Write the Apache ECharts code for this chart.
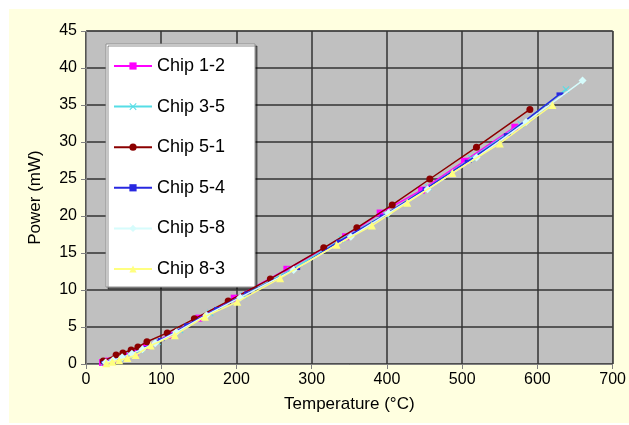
<!DOCTYPE html>
<html>
<head>
<meta charset="utf-8">
<script src="https://cdn.jsdelivr.net/npm/echarts@6/dist/echarts.min.js"></script>
<style>html,body{margin:0;padding:0;background:#fff;overflow:hidden}#c{width:629px;height:425px}</style>
</head>
<body>
<div id="c"></div>
<script>
// ---- data (temperature °C, power mW) ----
const chip12 = [[22,0.2],[30,0.4],[40,0.7],[52,1.1],[65,1.6],[80,2.4],[110,3.9],[150,6.2],[197,8.9],[267,12.8],[345,17.2],[391,20.4],[446,23.5],[503,27.4],[570,32.0]];
const chip35 = [[24,0.2],[33,0.4],[45,0.8],[58,1.3],[72,1.9],[95,3.0],[125,4.6],[165,6.9],[210,9.3],[272,12.7],[340,16.9],[398,20.2],[455,23.9],[512,27.8],[578,32.4],[638,37.1]];
const chip51 = [[23,0.4],[40,1.2],[49,1.5],[60,1.9],[69,2.3],[81,3.0],[108,4.2],[144,6.1],[189,8.5],[245,11.5],[316,15.7],[360,18.4],[407,21.5],[457,25.0],[519,29.3],[590,34.4]];
const chip54 = [[25,0.2],[38,0.6],[50,1.0],[63,1.5],[78,2.2],[100,3.3],[135,5.3],[175,7.5],[215,9.6],[280,12.9],[337,16.6],[395,20.0],[452,23.7],[508,27.4],[560,31.0],[630,36.5]];
const chip58 = [[26,0.2],[36,0.5],[48,0.9],[61,1.4],[75,2.0],[92,2.8],[120,4.3],[160,6.6],[205,9.0],[276,12.7],[352,17.2],[402,20.4],[454,23.6],[519,27.9],[585,32.7],[660,38.3]];
const chip83 = [[27,0.1],[35,0.3],[44,0.5],[55,0.8],[66,1.2],[86,2.5],[118,3.9],[158,6.4],[201,8.4],[258,11.6],[333,16.1],[380,18.7],[427,21.8],[487,25.8],[550,29.8],[620,35.0]];
const seriesNames = ['Chip 1-2','Chip 3-5','Chip 5-1','Chip 5-4','Chip 5-8','Chip 8-3'];
const xAxisName = 'Temperature (°C)';
const yAxisName = 'Power (mW)';

const XSYM = 'path://M0,1L1,0L5,4L9,0L10,1L6,5L10,9L9,10L5,6L1,10L0,9L4,5Z';
const styles = [
  {data: chip12, color:'#FF00FF', symbol:'rect', size:7},
  {data: chip35, color:'#55DDE6', symbol:XSYM, size:7},
  {data: chip51, color:'#8B0000', symbol:'circle', size:7},
  {data: chip54, color:'#2828E0', symbol:'rect', size:[7,3]},
  {data: chip58, color:'#D6FCFC', symbol:'diamond', size:8},
  {data: chip83, color:'#FFFF80', symbol:'triangle', size:8}
];

const chart = echarts.init(document.getElementById('c'), null, {renderer:'canvas'});
chart.setOption({
  backgroundColor:'#ffffff',
  animation:false,
  graphic:[{type:'rect', z:-10, silent:true, shape:{x:9,y:9,width:700,height:414}, style:{fill:'#FFFFE0'}}],
  grid:{left:86, top:31, right:8, bottom:61, show:true, backgroundColor:'#C0C0C0', borderColor:'#808080', borderWidth:1},
  xAxis:{type:'value', min:0, max:700, interval:100,
    name:xAxisName, nameLocation:'middle', nameGap:32,
    nameTextStyle:{fontFamily:'Liberation Sans, Arial', fontSize:17, color:'#000'},
    axisLine:{show:true, onZero:false, lineStyle:{color:'#808080', width:1}},
    axisTick:{show:true, inside:false, length:5, lineStyle:{color:'#808080'}},
    axisLabel:{fontFamily:'Liberation Sans, Arial', fontSize:16, color:'#000', margin:8},
    splitLine:{show:true, lineStyle:{color:'#333333', width:1.5}}
  },
  yAxis:{type:'value', min:0, max:45, interval:5,
    name:yAxisName, nameLocation:'middle', nameGap:42,
    nameTextStyle:{fontFamily:'Liberation Sans, Arial', fontSize:17, color:'#000'},
    axisLine:{show:true, onZero:false, lineStyle:{color:'#808080', width:1}},
    axisTick:{show:true, inside:false, length:5, lineStyle:{color:'#808080'}},
    axisLabel:{fontFamily:'Liberation Sans, Arial', fontSize:16, color:'#000', margin:9},
    splitLine:{show:true, lineStyle:{color:'#333333', width:1.5}}
  },
  legend:{orient:'vertical', left:106, top:44,
    backgroundColor:'#ffffff', borderColor:'#909090', borderWidth:1,
    shadowColor:'rgba(0,0,0,0.45)', shadowOffsetX:2, shadowOffsetY:2, shadowBlur:0,
    padding:[13,30,9,7], itemWidth:38, itemHeight:9, itemGap:22.6,
    textStyle:{fontFamily:'Liberation Sans, Arial', fontSize:18, color:'#000', lineHeight:14},
    data: seriesNames
  },
  series: styles.map((s,i)=>({
    name: seriesNames[i], type:'line', data:s.data,
    symbol:s.symbol, symbolSize:s.size, showSymbol:true,
    lineStyle:{color:s.color, width:1.5},
    itemStyle:{color:s.color},
    z: 2 + i
  }))
});
</script>
</body>
</html>
